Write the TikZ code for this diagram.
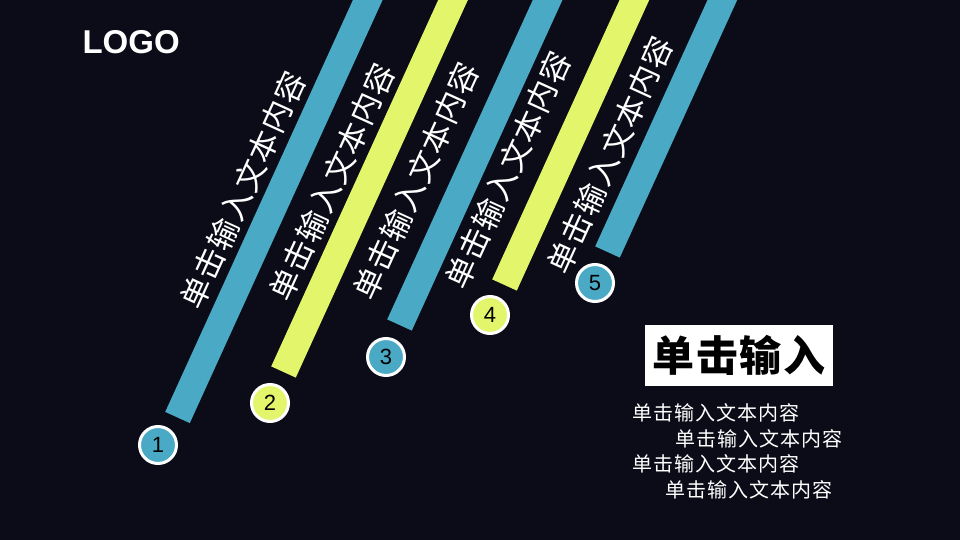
\documentclass[tikz,border=0pt]{standalone}
\usepackage{fontspec}
\newfontfamily\cjk[LetterSpace=4]{Noto Sans CJK SC}
\newfontfamily\cjktitle[LetterSpace=4]{Noto Sans CJK SC}
\newfontfamily\cjksmall[LetterSpace=5]{Noto Sans CJK SC}
\newfontfamily\logofont{Liberation Sans}
\definecolor{bg}{HTML}{0B0C17}
\definecolor{barblue}{HTML}{4AAAC5}
\definecolor{baryellow}{HTML}{E2F56B}

\begin{document}
\begin{tikzpicture}[x=1pt,y=-1pt,
    bar/.style={line width=27pt},
    num/.style={circle,draw=white,line width=3pt,minimum size=37pt,inner sep=0pt,
        text=black,font=\logofont\fontsize{22}{22}\selectfont},
    slant/.style={rotate=65.5,inner sep=0pt,text=white,font=\cjk\fontsize{31}{31}\selectfont},
    item/.style={anchor=west,inner sep=0pt,text=white,font=\cjksmall\fontsize{20}{20}\selectfont}]
    \fill[bg] (0,0) rectangle (960,540);
    \clip (0,0) rectangle (960,540);
    \node[anchor=west,text=white,font=\logofont\bfseries\fontsize{33}{33}\selectfont] (logo) at (79,42) {LOGO};
    % bars
    \foreach \i/\x/\y/\c in {1/177.5/417.5/barblue,2/283.5/372/baryellow,3/399.5/325/barblue,
        4/504.5/285/baryellow,5/607.5/252/barblue}{
        \coordinate (b\i) at (\x,\y);
        \draw[bar,\c] (b\i) -- ++(-65.5:480);
    }
    % numbers
    \foreach \i/\x/\y/\c in {1/158/445/barblue,2/270/403/baryellow,3/386/357/barblue,
        4/490/315/baryellow,5/595/283/barblue}{
        \node[num,fill=\c] (c\i) at (\x,\y) {\i};
    }
    \foreach \i/\x/\y in {1/243/190,2/332/182,3/416/181,4/508/170,5/610/155}{
        \node[slant] (t\i) at (\x,\y) {单击输入文本内容};
    }
    \node[fill=white,minimum width=188pt,minimum height=61pt,inner sep=0pt,
        font=\cjktitle\bfseries\fontsize{42}{42}\selectfont] (title) at (739,355.5) {单击输入};
    \foreach \i/\x/\y in {1/632/413,2/675/439,3/632/464,4/665/490}{
        \node[item] (l\i) at (\x,\y) {单击输入文本内容};
    }
\end{tikzpicture}
\end{document}
